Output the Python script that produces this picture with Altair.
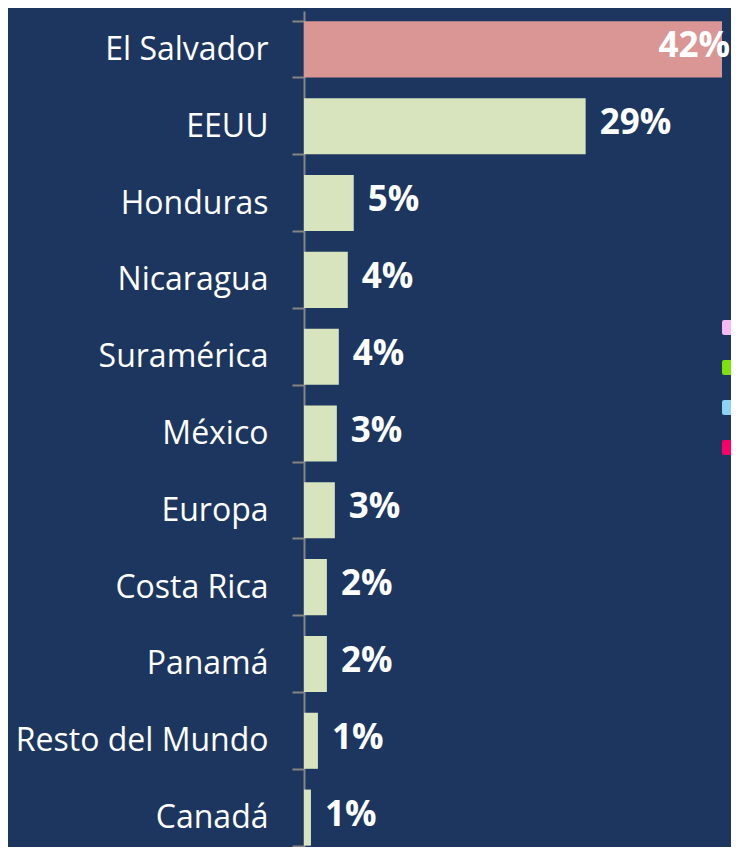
import altair as alt
import pandas as pd

paises = ["El Salvador", "EEUU", "Honduras", "Nicaragua", "Suramérica", "México",
          "Europa", "Costa Rica", "Panamá", "Resto del Mundo", "Canadá"]
valores = [42.0, 28.3, 5.0, 4.4, 3.5, 3.3, 3.1, 2.3, 2.3, 1.4, 0.7]
etiquetas = ["42%", "29%", "5%", "4%", "4%", "3%", "3%", "2%", "2%", "1%", "1%"]

series_leyenda = ["Serie 1", "Serie 2", "Serie 3", "Serie 4"]
colores_leyenda = ["#f7b9f3", "#7fe00e", "#8ed3f5", "#fb0066"]

BG = "#1c365f"
PINK = "#d99694"
GREEN = "#d7e4bd"

df = pd.DataFrame({"pais": paises, "valor": valores, "etiqueta": etiquetas})
df_leg = pd.DataFrame({"serie": series_leyenda})

y_enc = alt.Y(
    "pais:N",
    sort=paises,
    title=None,
    scale=alt.Scale(paddingInner=0.27, paddingOuter=0.135),
    axis=alt.Axis(
        domainColor="#858585", domainWidth=2,
        tickColor="#858585", tickWidth=2, tickSize=12, tickBand="extent",
        labelColor="white", labelFont="Open Sans", labelFontSize=32,
        labelPadding=24, labelLimit=400,
    ),
)
x_enc = alt.X("valor:Q", axis=None, scale=alt.Scale(domain=[0, 42], nice=False, zero=True))

base = alt.Chart(df)

bars = base.mark_bar(cornerRadius=0).encode(
    y=y_enc,
    x=x_enc,
    color=alt.condition(alt.datum.pais == "El Salvador", alt.value(PINK), alt.value(GREEN)),
)

text_out = base.transform_filter(alt.datum.pais != "El Salvador").mark_text(
    align="left", dx=14, dy=-3, font="Open Sans", fontWeight="bold", fontSize=35, color="white"
).encode(y=alt.Y("pais:N", sort=paises), x="valor:Q", text="etiqueta:N")

text_in = base.transform_filter(alt.datum.pais == "El Salvador").mark_text(
    align="right", dx=8, dy=-3, font="Open Sans", fontWeight="bold", fontSize=35, color="white"
).encode(y=alt.Y("pais:N", sort=paises), x="valor:Q", text="etiqueta:N")

rounded_square = ("M -0.7,-1 L 0.7,-1 Q 1,-1 1,-0.7 L 1,0.7 Q 1,1 0.7,1 L -0.7,1 "
                  "Q -1,1 -1,0.7 L -1,-0.7 Q -1,-1 -0.7,-1 Z")

legend_layer = alt.Chart(df_leg).mark_square(opacity=0).encode(
    color=alt.Color(
        "serie:N",
        scale=alt.Scale(domain=series_leyenda, range=colores_leyenda),
        legend=alt.Legend(
            orient="none", legendX=418, legendY=309, title=None,
            symbolType=rounded_square, symbolSize=225, symbolOpacity=1, symbolStrokeWidth=0,
            labelExpr="''", labelFontSize=14, rowPadding=25, padding=0,
        ),
    )
)

chart = alt.layer(bars, text_out, text_in, legend_layer).properties(
    width=418,
    height=845,
    background=BG,
    padding={"left": 296, "top": 3, "right": 9, "bottom": -9},
    autosize=alt.AutoSizeParams(type="none"),
).configure_view(stroke=None)

chart.save("out.html", embed_options={"renderer": "svg", "actions": False})
